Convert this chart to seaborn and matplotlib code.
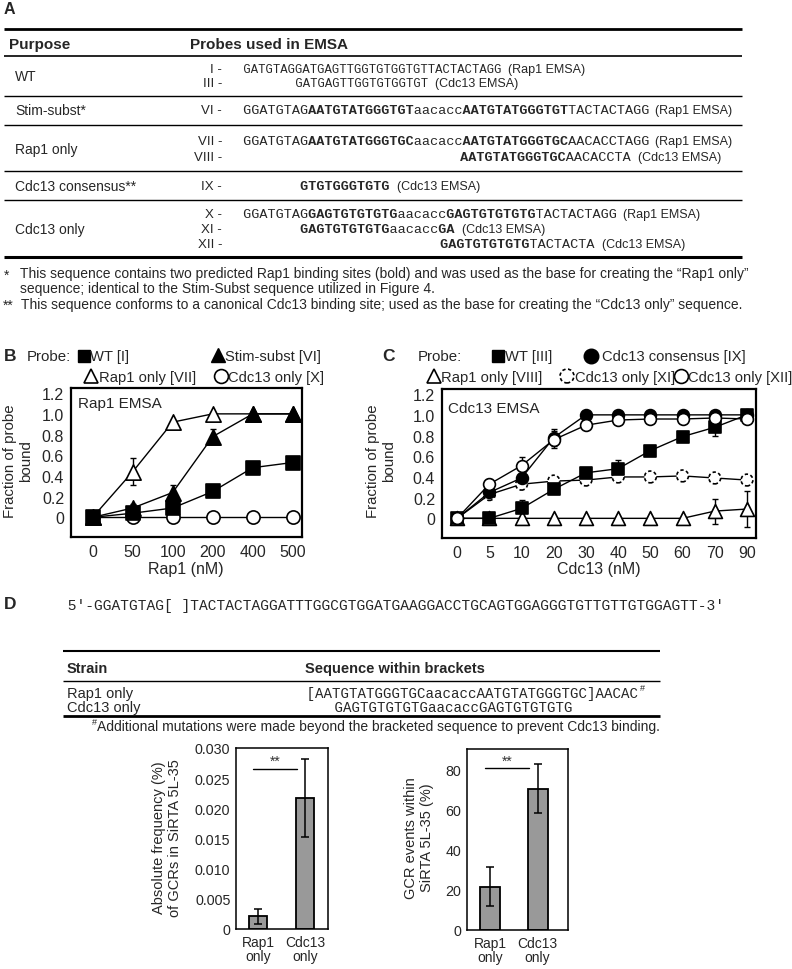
import matplotlib
matplotlib.use("Agg")
import matplotlib.pyplot as plt
import seaborn as sns
import numpy as np
import pandas as pd

# ---------------- data ----------------
rap1_conc = ['0', '50', '100', '200', '400', '500']
b_wt_I = [0, 0.04, 0.09, 0.25, 0.48, 0.53]
b_wt_I_err = [0, 0.01, 0.02, 0.02, 0.02, 0.02]
b_stim_VI = [0, 0.09, 0.24, 0.78, 1.0, 1.0]
b_stim_VI_err = [0, 0.04, 0.07, 0.07, 0, 0]
b_rap1_VII = [0, 0.44, 0.92, 1.0, 1.0, 1.0]
b_rap1_VII_err = [0, 0.13, 0.01, 0, 0, 0]
b_cdc13_X = [0, 0, 0, 0, 0, 0]

cdc13_conc = ['0', '5', '10', '20', '30', '40', '50', '60', '70', '90']
c_wt_III = [0, 0, 0.096, 0.28, 0.44, 0.48, 0.655, 0.79, 0.88, 1.0]
c_wt_III_err = [0, 0, 0.08, 0.03, 0.04, 0.08, 0.02, 0.02, 0.08, 0.02]
c_cons_IX = [0, 0.25, 0.39, 0.78, 1.0, 1.0, 1.0, 1.0, 1.0, 1.0]
c_cons_IX_err = [0, 0.04, 0.05, 0.08, 0, 0, 0, 0, 0, 0]
c_rap1_VIII = [0, 0, 0, 0, 0, 0, 0, 0, 0.07, 0.09]
c_rap1_VIII_err = [0, 0, 0, 0, 0, 0, 0, 0, 0.12, 0.17]
c_cdc13_XI = [0, 0.23, 0.33, 0.36, 0.37, 0.40, 0.40, 0.41, 0.39, 0.37]
c_cdc13_XI_err = [0, 0.03, 0.03, 0.02, 0.03, 0.02, 0.02, 0.03, 0.02, 0.03]
c_cdc13_XII = [0, 0.33, 0.51, 0.76, 0.90, 0.95, 0.96, 0.96, 0.97, 0.96]
c_cdc13_XII_err = [0, 0.05, 0.08, 0.08, 0.03, 0.02, 0.02, 0.02, 0.02, 0.02]

strains = ['Rap1\nonly', 'Cdc13\nonly']
abs_freq = [0.0021, 0.0217]
abs_freq_err = [0.0012, 0.0064]
gcr_pct = [21.5, 70.3]
gcr_pct_err = [9.6, 12.2]

yticks_emsa = [0, 0.2, 0.4, 0.6, 0.8, 1.0, 1.2]
yticklabels_emsa = ['0', '0.2', '0.4', '0.6', '0.8', '1.0', '1.2']
yticks_abs = [0, 0.005, 0.010, 0.015, 0.020, 0.025, 0.030]
yticklabels_abs = ['0', '0.005', '0.010', '0.015', '0.020', '0.025', '0.030']
yticks_pct = [0, 20, 40, 60, 80]

# table A content: (roman numeral, [(segment, bold)], label)
probes_A = [
    ('I -', [('GATGTAGGATGAGTTGGTGTGGTGTTACTACTAGG', 0)], '(Rap1 EMSA)'),
    ('III -', [('GATGAGTTGGTGTGGTGT', 0)], '(Cdc13 EMSA)'),
    ('VI -', [('GGATGTAG', 0), ('AATGTATGGGTGT', 1), ('aacacc', 0), ('AATGTATGGGTGT', 1), ('TACTACTAGG', 0)], '(Rap1 EMSA)'),
    ('VII -', [('GGATGTAG', 0), ('AATGTATGGGTGC', 1), ('aacacc', 0), ('AATGTATGGGTGC', 1), ('AACACCTAGG', 0)], '(Rap1 EMSA)'),
    ('VIII -', [('AATGTATGGGTGC', 1), ('AACACCTA', 0)], '(Cdc13 EMSA)'),
    ('IX -', [('GTGTGGGTGTG', 1)], '(Cdc13 EMSA)'),
    ('X -', [('GGATGTAG', 0), ('GAGTGTGTGTG', 1), ('aacacc', 0), ('GAGTGTGTGTG', 1), ('TACTACTAGG', 0)], '(Rap1 EMSA)'),
    ('XI -', [('GAGTGTGTGTG', 1), ('aacacc', 0), ('GA', 1)], '(Cdc13 EMSA)'),
    ('XII -', [('GAGTGTGTGTG', 1), ('TACTACTA', 0)], '(Cdc13 EMSA)'),
]
purposes_A = ['WT', 'Stim-subst*', 'Rap1 only', 'Cdc13 consensus**', 'Cdc13 only']

# ---------------- style ----------------
sns.set_theme(style='white')
plt.rcParams['font.family'] = ['Liberation Sans', 'DejaVu Sans']
plt.rcParams['axes.edgecolor'] = 'black'
MONO = 'Liberation Mono'

W, H = 792, 970
fig = plt.figure(figsize=(W / 100, H / 100), dpi=100)
fig.patch.set_facecolor('white')

ov = fig.add_axes([0, 0, 1, 1])
ov.set_xlim(0, W)
ov.set_ylim(H, 0)
ov.axis('off')


def axes_px(x0, y0, x1, y1):
    a = fig.add_axes([x0 / W, 1 - y1 / H, (x1 - x0) / W, (y1 - y0) / H])
    a.set_facecolor('none')
    return a


def txt(x, y, s, fs=9.5, **kw):
    kw.setdefault('va', 'center')
    kw.setdefault('ha', 'left')
    ov.text(x, y, s, fontsize=fs, **kw)


def seqtext(x, y, segs, fs):
    cw = 0.6 * fs * 100 / 72
    norm = ''.join(s if not b else ' ' * len(s) for s, b in segs)
    bold = ''.join(s if b else ' ' * len(s) for s, b in segs)
    if norm.strip():
        ov.text(x - cw, y, ' ' + norm, family=MONO, fontsize=fs, va='center', ha='left')
    if bold.strip():
        ov.text(x - cw, y, ' ' + bold, family=MONO, fontsize=fs, weight='bold', va='center', ha='left')
    return x + cw * len(norm)


def hline(y, x0, x1, lw):
    ov.plot([x0, x1], [y, y], color='black', lw=lw, solid_capstyle='butt')

# ---------------- panel A ----------------
txt(4, 9, 'A', fs=11.5, weight='bold')
hline(30, 4, 742, 2.0)
txt(9, 45, 'Purpose', fs=11, weight='bold')
txt(190, 45, 'Probes used in EMSA', fs=11, weight='bold')
hline(57, 4, 742, 1.2)

row_y = [70, 84, 111, 142, 158, 187, 215, 230, 245]
row_x = [243, 295, 243, 243, 460, 300, 243, 300, 440]
row_fs = [8.8, 8.8, 9.7, 9.7, 9.7, 9.7, 9.7, 9.7, 9.7]
for (rn, segs, lab), y, x, fs in zip(probes_A, row_y, row_x, row_fs):
    txt(222, y, rn, fs=9.5, ha='right')
    xe = seqtext(x, y, segs, fs)
    txt(xe + 8, y, lab, fs=9)

purpose_y = [77, 111, 150, 187, 230]
for p, y in zip(purposes_A, purpose_y):
    txt(15, y, p, fs=10)

for y in [97, 126, 172, 201]:
    hline(y, 4, 742, 1.0)
hline(258, 4, 742, 2.2)

txt(4, 276, '*', fs=10)
txt(20, 274, 'This sequence contains two predicted Rap1 binding sites (bold) and was used as the base for creating the \u201cRap1 only\u201d', fs=10)
txt(20, 289, 'sequence; identical to the Stim-Subst sequence utilized in Figure 4.', fs=10)
txt(3, 306, '**', fs=10)
txt(21, 305, 'This sequence conforms to a canonical Cdc13 binding site; used as the base for creating the \u201cCdc13 only\u201d sequence.', fs=10)

# ---------------- panels B and C ----------------
LW = 1.0
TICKFS = 11.5


def emsa_axes(ax, labels, xlim):
    ax.set_xlim(*xlim)
    ax.set_ylim(-0.19, 1.25)
    ax.set_xticks(range(len(labels)))
    ax.set_xticklabels(labels, fontsize=TICKFS)
    ax.set_yticks(yticks_emsa)
    ax.set_yticklabels(yticklabels_emsa, fontsize=TICKFS)
    ax.tick_params(length=0, pad=5)
    ax.set_xlabel('')
    ax.set_ylabel('')
    for s in ax.spines.values():
        s.set_visible(True)
        s.set_linewidth(1.6)
        s.set_color('black')


def series(ax, xs, ys, errs, marker, ms, fc, ls_edge='-', ew=1.2):
    ax.errorbar(xs, ys, yerr=errs, fmt='none', ecolor='black', elinewidth=1.0, capsize=2.5, capthick=1.0, zorder=2)
    sns.lineplot(x=xs, y=ys, ax=ax, color='black', lw=LW, zorder=3, errorbar=None)
    sns.scatterplot(x=xs, y=ys, ax=ax, marker=marker, s=ms ** 2, facecolor=fc, edgecolor='black',
                    linewidth=ew, linestyle=ls_edge, zorder=4)

axB = axes_px(71, 389, 302, 538)
xb = np.arange(len(rap1_conc))
series(axB, xb, b_cdc13_X, [0] * 6, 'o', 9.5, 'white')
series(axB, xb, b_rap1_VII, b_rap1_VII_err, '^', 11, 'white')
series(axB, xb, b_wt_I, b_wt_I_err, 's', 9.5, 'black')
series(axB, xb, b_stim_VI, b_stim_VI_err, '^', 11, 'black')
emsa_axes(axB, rap1_conc, (-0.54, 5.23))
axB.text(0.03, 0.90, 'Rap1 EMSA', transform=axB.transAxes, fontsize=11, va='center')

axC = axes_px(442, 390, 756, 539)
xc = np.arange(len(cdc13_conc))
series(axC, xc, c_rap1_VIII, c_rap1_VIII_err, '^', 10, 'white')
series(axC, xc, c_cdc13_XI, c_cdc13_XI_err, 'o', 8.5, 'white', ls_edge=(0, (2, 1.5)))
series(axC, xc, c_wt_III, c_wt_III_err, 's', 8, 'black')
series(axC, xc, c_cons_IX, c_cons_IX_err, 'o', 8.5, 'black')
series(axC, xc, c_cdc13_XII, c_cdc13_XII_err, 'o', 8.5, 'white')
emsa_axes(axC, cdc13_conc, (-0.47, 9.28))
axC.text(0.02, 0.87, 'Cdc13 EMSA', transform=axC.transAxes, fontsize=11, va='center')

# axis labels
ov.text(18, 461, 'Fraction of probe\nbound', rotation=90, fontsize=10.8, ha='center', va='center', linespacing=1.1)
ov.text(381, 461, 'Fraction of probe\nbound', rotation=90, fontsize=10.8, ha='center', va='center', linespacing=1.1)
txt(186, 570, 'Rap1 (nM)', fs=11.5, ha='center')
txt(599, 570, 'Cdc13 (nM)', fs=11.5, ha='center')

# legends
LEGFS = 10.6
txt(4, 357, 'B', fs=12.5, weight='bold')
txt(27, 357, 'Probe:', fs=10.8)
ov.plot([84], [357], marker='s', ms=9, color='black', ls='none')
txt(90, 357, 'WT [I]', fs=LEGFS)
ov.plot([218], [356], marker='^', ms=10.5, color='black', ls='none')
txt(225, 357, 'Stim-subst [VI]', fs=LEGFS)
ov.plot([91], [377], marker='^', ms=10.5, mfc='white', mec='black', mew=1.2, ls='none')
txt(99, 378, 'Rap1 only [VII]', fs=LEGFS)
ov.plot([221], [377], marker='o', ms=10, mfc='white', mec='black', mew=1.2, ls='none')
txt(228, 378, 'Cdc13 only [X]', fs=LEGFS)

txt(382, 357, 'C', fs=12.5, weight='bold')
txt(418, 357, 'Probe:', fs=10.8)
ov.plot([498], [357], marker='s', ms=9, color='black', ls='none')
txt(505, 357, 'WT [III]', fs=LEGFS)
ov.plot([591], [357], marker='o', ms=10.5, color='black', ls='none')
txt(602, 357, 'Cdc13 consensus [IX]', fs=LEGFS)
ov.plot([434], [377], marker='^', ms=10.5, mfc='white', mec='black', mew=1.2, ls='none')
txt(441, 378, 'Rap1 only [VIII]', fs=LEGFS)
ov.scatter([567], [377], marker='o', s=100, facecolor='white', edgecolor='black', linewidth=1.2, linestyle=(0, (2, 1.5)))
txt(575, 378, 'Cdc13 only [XI]', fs=LEGFS)
ov.plot([681], [377], marker='o', ms=10, mfc='white', mec='black', mew=1.2, ls='none')
txt(688, 378, 'Cdc13 only [XII]', fs=LEGFS)

# ---------------- panel D ----------------
txt(4, 605, 'D', fs=12.5, weight='bold')
seqtext(68, 606, [("5\u2032-GGATGTAG[ ]TACTACTAGGATTTGGCGTGGATGAAGGACCTGCAGTGGAGGGTGTTGTTGTGGAGTT-3\u2032", 0)], 10.5)

DX1 = 660
hline(652, 63, DX1, 1.5)
txt(67, 669, 'Strain', fs=10.5, weight='bold')
txt(305, 669, 'Sequence within brackets', fs=10.5, weight='bold')
hline(682, 63, DX1, 1.0)
txt(67, 694, 'Rap1 only', fs=10.5)
xe = seqtext(307, 694, [('[AATGTATGGGTGCaacaccAATGTATGGGTGC]AACAC', 0)], 10.2)
txt(xe + 1, 689, '#', fs=6.5)
txt(67, 708, 'Cdc13 only', fs=10.5)
seqtext(334, 708, [('GAGTGTGTGTGaacaccGAGTGTGTGTG', 0)], 10.2)
hline(717, 63, DX1, 2.0)
txt(92, 723, '#', fs=6.5)
txt(97, 727, 'Additional mutations were made beyond the bracketed sequence to prevent Cdc13 binding.', fs=10)

bar_df1 = pd.DataFrame({'strain': strains, 'value': abs_freq})
bar_df2 = pd.DataFrame({'strain': strains, 'value': gcr_pct})


def bar_axes(ax, df, errs, xlim, ylim, yt, ytl, width, sig_y, star_y):
    sns.barplot(data=df, x='strain', y='value', ax=ax, color='#999999', edgecolor='black',
                linewidth=1.3, width=width, saturation=1, errorbar=None)
    ax.errorbar(range(len(df)), df['value'], yerr=errs, fmt='none', ecolor='black',
                elinewidth=1.1, capsize=3, capthick=1.1)
    ax.set_xlim(*xlim)
    ax.set_ylim(*ylim)
    ax.set_yticks(yt)
    ax.set_yticklabels(ytl, fontsize=10.3)
    ax.set_xticks(range(len(df)))
    ax.set_xticklabels(df['strain'], fontsize=10, linespacing=1.05)
    ax.tick_params(length=0, pad=4)
    ax.set_xlabel('')
    ax.set_ylabel('')
    for s in ax.spines.values():
        s.set_visible(True)
        s.set_linewidth(1.1)
        s.set_color('black')
    ax.plot([-0.1, 0.82], [sig_y, sig_y], color='black', lw=1.0)
    ax.text(0.36, star_y, '**', ha='center', va='center', fontsize=10, color='#333333')

ax1 = axes_px(236, 749, 328, 930)
bar_axes(ax1, bar_df1, abs_freq_err, (-0.47, 1.49), (0, 0.030), yticks_abs, yticklabels_abs, 0.4, 0.0265, 0.0278)
ax2 = axes_px(467, 750, 568, 931)
bar_axes(ax2, bar_df2, gcr_pct_err, (-0.49, 1.64), (0, 90), yticks_pct, [str(v) for v in yticks_pct], 0.42, 80.5, 84)

ov.text(167, 838, 'Absolute frequency (%)\nof GCRs in SiRTA 5L-35', rotation=90, fontsize=10.5,
        ha='center', va='center', linespacing=1.1)
ov.text(419, 838, 'GCR events within\nSiRTA 5L-35 (%)', rotation=90, fontsize=10.5,
        ha='center', va='center', linespacing=1.1)

fig.savefig('out.png', dpi=100, facecolor='white')
